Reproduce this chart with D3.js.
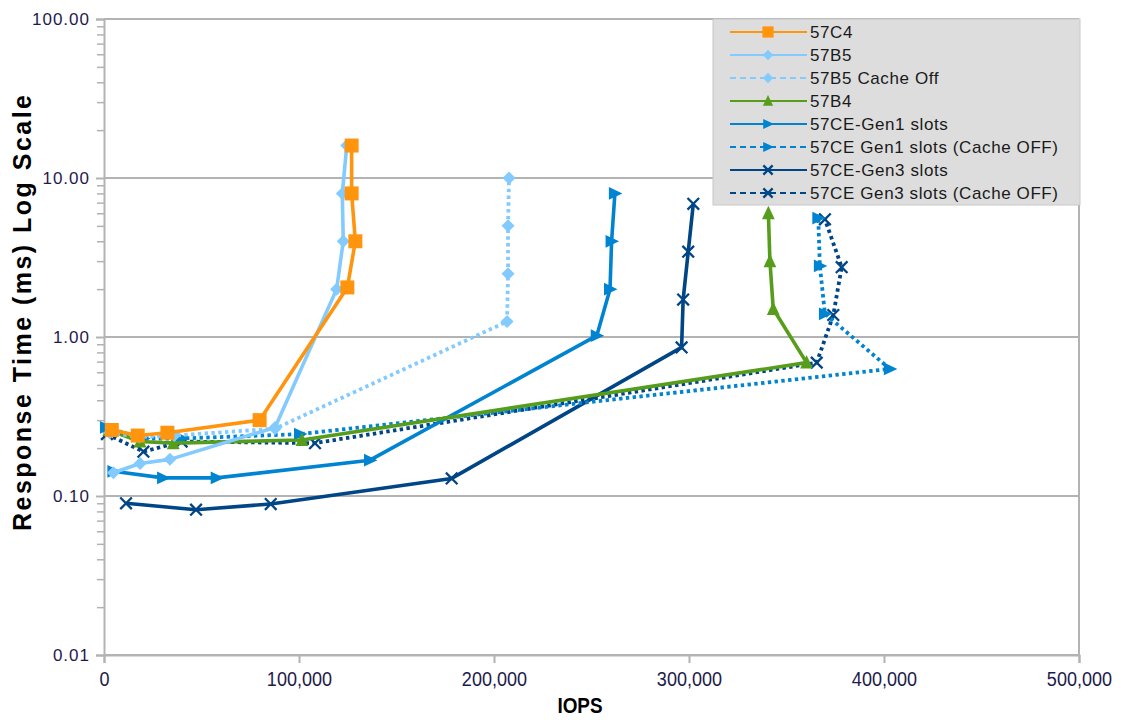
<!DOCTYPE html>
<html>
<head>
<meta charset="utf-8">
<script src="https://cdn.jsdelivr.net/npm/d3@7"></script>
<style>
  body { margin: 0; background: #ffffff; }
  text { font-family: "Liberation Sans", Arial, sans-serif; }
</style>
</head>
<body>
<svg id="chart" width="1121" height="720"></svg>
<script>
// ---- data: IOPS vs response time (ms) per configuration ----
const seriesNames = [
  "57C4", "57B5", "57B5 Cache Off", "57B4",
  "57CE-Gen1 slots", "57CE Gen1 slots (Cache OFF)",
  "57CE-Gen3 slots", "57CE Gen3 slots (Cache OFF)"
];

const iops57C4 = [4000, 17300, 32500, 79800, 124800, 128900, 127000, 127000];
const rt57C4   = [0.26, 0.24, 0.25, 0.30, 2.05, 4.0, 8.0, 16.0];

const iops57B5 = [4800, 18500, 33800, 87700, 119300, 122700, 122200, 124500];
const rt57B5   = [0.14, 0.16, 0.17, 0.27, 2.0, 4.0, 8.0, 16.0];

const iops57B5Off = [3000, 18000, 36000, 87700, 206700, 207200, 207200, 207700];
const rt57B5Off   = [0.25, 0.235, 0.24, 0.265, 1.25, 2.5, 5.0, 10.0];

const iops57B4 = [2500, 18500, 35500, 101500, 360300, 343200, 341500, 340700];
const rt57B4   = [0.26, 0.22, 0.215, 0.225, 0.69, 1.5, 3.0, 6.0];

const iopsGen1 = [4800, 30300, 57800, 136400, 252700, 259500, 260300, 262000];
const rtGen1   = [0.143, 0.13, 0.13, 0.168, 1.02, 2.0, 4.0, 8.0];

const iopsGen1Off = [1000, 20000, 40000, 100500, 403000, 369700, 367100, 366300];
const rtGen1Off   = [0.27, 0.23, 0.23, 0.245, 0.63, 1.4, 2.8, 5.6];

const iopsGen3 = [11300, 47200, 85500, 178300, 296200, 297000, 299600, 302200];
const rtGen3   = [0.09, 0.082, 0.089, 0.129, 0.86, 1.72, 3.44, 6.88];

const iopsGen3Off = [1500, 20200, 39800, 108200, 365500, 374000, 378300, 369700];
const rtGen3Off   = [0.245, 0.19, 0.22, 0.215, 0.69, 1.375, 2.75, 5.5];

const xTicks = [0, 100000, 200000, 300000, 400000, 500000];
const yTicks = [0.01, 0.1, 1, 10, 100];

// ---- series styling ----
const seriesIops = [iops57C4, iops57B5, iops57B5Off, iops57B4, iopsGen1, iopsGen1Off, iopsGen3, iopsGen3Off];
const seriesRt   = [rt57C4, rt57B5, rt57B5Off, rt57B4, rtGen1, rtGen1Off, rtGen3, rtGen3Off];
const colors  = ["#ff950e", "#83caff", "#83caff", "#579d1c", "#0084d1", "#0084d1", "#004586", "#004586"];
const dotted  = [false, false, true, false, false, true, false, true];
const shapes  = ["square", "diamond", "diamond", "triUp", "triRight", "triRight", "cross", "cross"];

const series = seriesNames.map((name, i) => ({
  name,
  color: colors[i],
  dotted: dotted[i],
  shape: shapes[i],
  points: seriesIops[i].map((v, j) => ({ x: v, y: seriesRt[i][j] }))
}));

// ---- layout ----
const svg = d3.select("#chart");
const plotLeft = 104, plotRight = 1079, plotTop = 19, plotBottom = 655;

const x = d3.scaleLinear().domain([0, 500000]).range([plotLeft, plotRight]);
const y = d3.scaleLog().domain([0.01, 100]).range([plotBottom, plotTop]);

const gridColor = "#b3b3b3";
const labelColor = "#1e1b4b";

// horizontal gridlines at decades
svg.append("g")
  .selectAll("line")
  .data(yTicks)
  .join("line")
  .attr("x1", plotLeft).attr("x2", plotRight)
  .attr("y1", d => y(d)).attr("y2", d => y(d))
  .attr("stroke", gridColor).attr("stroke-width", 2);

// right wall
svg.append("line")
  .attr("x1", plotRight).attr("x2", plotRight)
  .attr("y1", plotTop).attr("y2", plotBottom)
  .attr("stroke", gridColor).attr("stroke-width", 2);

// minor log ticks on the y axis
const minorTicks = [];
[0.01, 0.1, 1, 10].forEach(d => { for (let k = 2; k <= 9; k++) minorTicks.push(d * k); });

const yMinor = svg.append("g")
  .attr("transform", `translate(${plotLeft},0)`)
  .call(d3.axisLeft(y).tickValues(minorTicks).tickSize(7).tickFormat(""));
yMinor.select(".domain").remove();
yMinor.selectAll("line").attr("stroke", gridColor).attr("stroke-width", 1.5);

// y axis with major ticks
const yAxis = svg.append("g")
  .attr("transform", `translate(${plotLeft},0)`)
  .call(d3.axisLeft(y).tickValues(yTicks).tickSize(8).tickPadding(6).tickFormat(d3.format(".2f")));
yAxis.select(".domain").attr("stroke", gridColor).attr("stroke-width", 2);
yAxis.selectAll("line").attr("stroke", gridColor).attr("stroke-width", 2);
yAxis.selectAll("text")
  .attr("fill", labelColor)
  .style("font-family", "'Liberation Sans', Arial, sans-serif")
  .style("font-size", "17px")
  .style("letter-spacing", "1px");

// x axis (labels are set in a condensed width)
const xAxis = svg.append("g")
  .attr("transform", `translate(0,${plotBottom})`)
  .call(d3.axisBottom(x).tickValues(xTicks).tickSize(8).tickPadding(8).tickFormat(d3.format(",")));
xAxis.select(".domain").attr("stroke", gridColor).attr("stroke-width", 2);
xAxis.selectAll("line").attr("stroke", gridColor).attr("stroke-width", 2);
xAxis.selectAll("text")
  .attr("fill", labelColor)
  .attr("transform", "scale(0.86,1)")
  .style("font-family", "'Liberation Sans', Arial, sans-serif")
  .style("font-size", "21px");

// axis titles
svg.append("text")
  .attr("transform", `translate(31,313) rotate(-90)`)
  .attr("text-anchor", "middle")
  .attr("textLength", 436)
  .attr("lengthAdjust", "spacing")
  .style("font-size", "25px")
  .style("font-weight", "bold")
  .attr("fill", "#000")
  .text("Response Time (ms) Log Scale");

svg.append("text")
  .attr("transform", "translate(580,713) scale(0.86,1)")
  .attr("text-anchor", "middle")
  .style("font-size", "22px")
  .style("font-weight", "bold")
  .attr("fill", "#000")
  .text("IOPS");

// ---- marker paths ----
function markerPath(shape, s) {
  switch (shape) {
    case "square":   return `M${-s},${-s}H${s}V${s}H${-s}Z`;
    case "diamond":  return `M0,${-s}L${s},0L0,${s}L${-s},0Z`;
    case "triUp":    return `M0,${-s}L${s * 0.85},${s * 0.8}L${-s * 0.85},${s * 0.8}Z`;
    case "triRight": return `M${s},0L${-s * 0.8},${s * 0.85}L${-s * 0.8},${-s * 0.85}Z`;
    case "cross":    return `M${-s},${-s}L${s},${s}M${-s},${s}L${s},${-s}`;
  }
}
const markerSize = { square: 7, diamond: 6.5, triUp: 7.5, triRight: 7.5, cross: 5.8 };

function drawMarkers(g, shape, color, pts, scale) {
  const s = markerSize[shape] * scale;
  g.selectAll("path.mk")
    .data(pts)
    .join("path")
    .attr("class", "mk")
    .attr("transform", d => `translate(${d[0]},${d[1]})`)
    .attr("d", markerPath(shape, s))
    .attr("fill", shape === "cross" ? "none" : color)
    .attr("stroke", color)
    .attr("stroke-width", shape === "cross" ? 2.3 : 0);
}

// ---- series (first in list ends on top) ----
const line = d3.line().x(d => x(d.x)).y(d => y(d.y));
const plot = svg.append("g");

series.slice().reverse().forEach(s => {
  const g = plot.append("g");
  g.append("path")
    .datum(s.points)
    .attr("d", line)
    .attr("fill", "none")
    .attr("stroke", s.color)
    .attr("stroke-width", s.dotted ? 3.8 : 3.6)
    .attr("stroke-linejoin", "round")
    .attr("stroke-dasharray", s.dotted ? "3.4,3.4" : null);
  drawMarkers(g, s.shape, s.color, s.points.map(p => [x(p.x), y(p.y)]), 1);
});

// ---- legend ----
const legend = svg.append("g");
legend.append("rect")
  .attr("x", 713).attr("y", 19)
  .attr("width", 367).attr("height", 186)
  .attr("fill", "#dddddd")
  .attr("stroke", "#c8c8c8").attr("stroke-width", 1);

series.forEach((s, i) => {
  const ly = 32 + i * 23;
  const g = legend.append("g");
  g.append("line")
    .attr("x1", 730).attr("x2", 807)
    .attr("y1", ly).attr("y2", ly)
    .attr("stroke", s.color)
    .attr("stroke-width", 2)
    .attr("stroke-dasharray", s.dotted ? "6,4" : null);
  drawMarkers(g, s.shape, s.color, [[768, ly]], 0.8);
  g.append("text")
    .attr("x", 810).attr("y", ly + 6)
    .style("font-size", "17px")
    .style("letter-spacing", "0.6px")
    .attr("fill", "#1a1a1a")
    .text(s.name);
});
</script>
</body>
</html>
